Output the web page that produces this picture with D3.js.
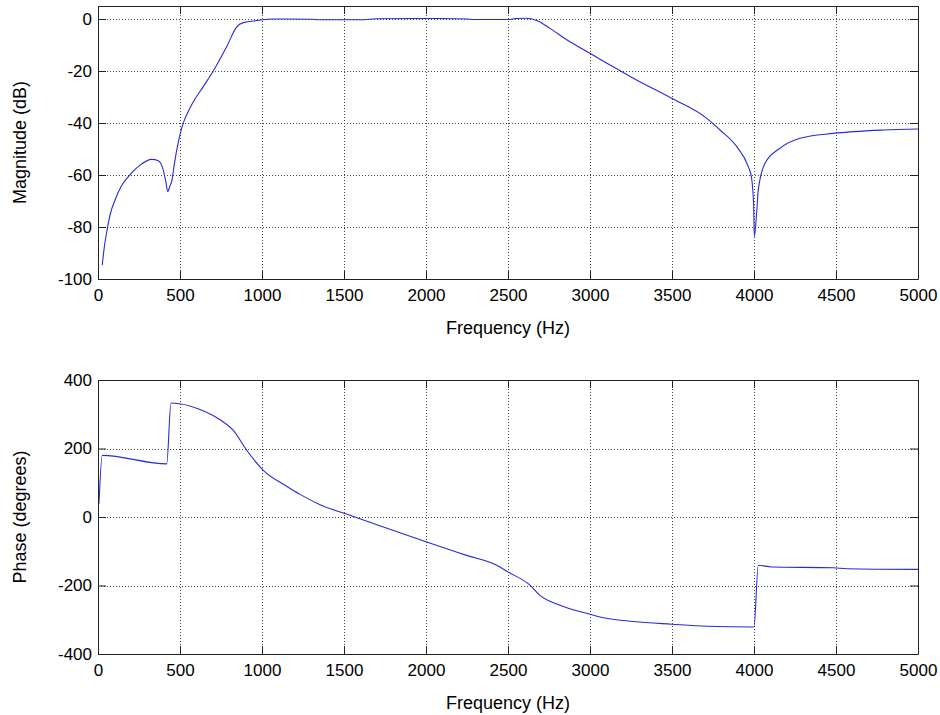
<!DOCTYPE html>
<html>
<head>
<meta charset="utf-8">
<script src="https://cdn.jsdelivr.net/npm/d3@7"></script>
<style>
  body { margin: 0; background: #fff; }
  text { font-family: "Liberation Sans", Arial, sans-serif; }
</style>
</head>
<body>
<main></main>
<script>
const w = 940;
const h = 715;

// magnitude response
const magFreq = [26, 40, 53, 75, 104, 140, 185, 256, 327, 368, 398, 415, 425, 440, 449, 465, 480, 510, 571, 642, 703, 785, 846, 886, 968, 1080, 1300, 1350, 1600, 1700, 2100, 2250, 2300, 2500, 2550, 2614, 2675, 2756, 2858, 3000, 3061, 3183, 3264, 3498, 3712, 3793, 3895, 3965, 3985, 3998, 4002, 4016, 4026, 4067, 4159, 4280, 4484, 4789, 5000];
const magDb = [-94.6, -87, -82, -75, -69.6, -64.5, -60.6, -56.2, -54, -54.5, -58.1, -63, -66.4, -64, -62.6, -56, -50.4, -42, -33, -26, -20, -10.6, -3, -1.4, -0.6, 0, -0.1, -0.3, -0.3, 0.1, 0.2, 0, -0.2, -0.2, 0.2, 0.3, -0.6, -3.6, -8, -13.2, -15.5, -19.9, -22.8, -30.5, -38.2, -42.7, -49.1, -56.8, -61, -72, -83.7, -74.7, -65.8, -55.5, -49.7, -45.9, -44, -42.7, -42.3];

// phase response
const phaseFreq = [6, 26, 419, 445, 622, 744, 825, 907, 1008, 1150, 1232, 1354, 1506, 1740, 2004, 2248, 2431, 2502, 2634, 2695, 2817, 3000, 3061, 3264, 3498, 3712, 4000, 4026, 4107, 4484, 4565, 5000];
const phaseDeg = [39, 180, 155, 333, 314, 284, 253, 195, 136, 90, 66, 36, 10, -29, -73, -112, -141, -161, -199, -229, -258, -284, -292, -305, -313, -319, -321, -141, -146, -148, -151, -153];

const freqTicks = [0, 500, 1000, 1500, 2000, 2500, 3000, 3500, 4000, 4500, 5000];
const magTicks = [-100, -80, -60, -40, -20, 0];
const phaseTicks = [-400, -200, 0, 200, 400];

const left = 98;
const right = 918;

const svg = d3
  .select("main")
  .append("svg")
  .attr("width", w)
  .attr("height", h);

svg.append("rect").attr("width", w).attr("height", h).attr("fill", "white");

const plain = (d) => String(d);

function drawPanel(opts) {
  const { top, bottom, yDomain, yTicks, xs, ys, ylabel } = opts;

  const x = d3.scaleLinear().domain([0, 5000]).range([left, right]);
  const y = d3.scaleLinear().domain(yDomain).range([bottom, top]);

  const g = svg.append("g");

  // dotted grid
  g.append("g")
    .selectAll("line")
    .data(freqTicks.slice(1, -1))
    .join("line")
    .attr("x1", (d) => Math.round(x(d)) + 0.5)
    .attr("x2", (d) => Math.round(x(d)) + 0.5)
    .attr("y1", top)
    .attr("y2", bottom)
    .attr("stroke", "#444")
    .attr("stroke-dasharray", "1,2");

  g.append("g")
    .selectAll("line")
    .data(yTicks.filter((d) => y(d) > top + 1 && y(d) < bottom - 1))
    .join("line")
    .attr("x1", left)
    .attr("x2", right)
    .attr("y1", (d) => Math.round(y(d)) + 0.5)
    .attr("y2", (d) => Math.round(y(d)) + 0.5)
    .attr("stroke", "#444")
    .attr("stroke-dasharray", "1,2");

  // curve
  const pts = xs.map((f, i) => [f, ys[i]]);
  g.append("path")
    .datum(pts)
    .attr("fill", "none")
    .attr("stroke", "#2a2ad6")
    .attr("stroke-width", 1.1)
    .attr(
      "d",
      d3
        .line()
        .curve(d3.curveMonotoneX)
        .x((d) => x(d[0]))
        .y((d) => y(d[1]))
    );

  // axes with inward ticks on all four sides
  const styleAxis = (sel) => {
    sel.select(".domain").attr("stroke", "#222");
    sel.selectAll(".tick line").attr("stroke", "#222");
    sel.selectAll("text")
      .attr("font-size", 17)
      .attr("fill", "#000")
      .style("font-family", '"Liberation Sans", Arial, sans-serif');
  };

  g.append("g")
    .attr("transform", `translate(0, ${bottom})`)
    .call(
      d3.axisBottom(x).tickValues(freqTicks).tickFormat(plain)
        .tickSize(-8).tickSizeOuter(0).tickPadding(10)
    )
    .call(styleAxis);

  g.append("g")
    .attr("transform", `translate(0, ${top})`)
    .call(
      d3.axisTop(x).tickValues(freqTicks).tickSize(-8).tickSizeOuter(0).tickFormat("")
    )
    .call(styleAxis);

  g.append("g")
    .attr("transform", `translate(${left}, 0)`)
    .call(
      d3.axisLeft(y).tickValues(yTicks).tickFormat(plain)
        .tickSize(-8).tickSizeOuter(0).tickPadding(6)
    )
    .call(styleAxis);

  g.append("g")
    .attr("transform", `translate(${right}, 0)`)
    .call(
      d3.axisRight(y).tickValues(yTicks).tickSize(-8).tickSizeOuter(0).tickFormat("")
    )
    .call(styleAxis);

  g.append("text")
    .attr("x", (left + right) / 2)
    .attr("y", bottom + 55)
    .attr("text-anchor", "middle")
    .attr("font-size", 18)
    .attr("fill", "#000")
    .text("Frequency (Hz)");

  g.append("text")
    .attr("transform", `translate(26, ${(top + bottom) / 2}) rotate(-90)`)
    .attr("text-anchor", "middle")
    .attr("font-size", 18)
    .attr("fill", "#000")
    .text(ylabel);
}

drawPanel({
  top: 6,
  bottom: 279,
  yDomain: [-100, 5],
  yTicks: magTicks,
  xs: magFreq,
  ys: magDb,
  ylabel: "Magnitude (dB)",
});

drawPanel({
  top: 380,
  bottom: 654,
  yDomain: [-400, 400],
  yTicks: phaseTicks,
  xs: phaseFreq,
  ys: phaseDeg,
  ylabel: "Phase (degrees)",
});
</script>
</body>
</html>
